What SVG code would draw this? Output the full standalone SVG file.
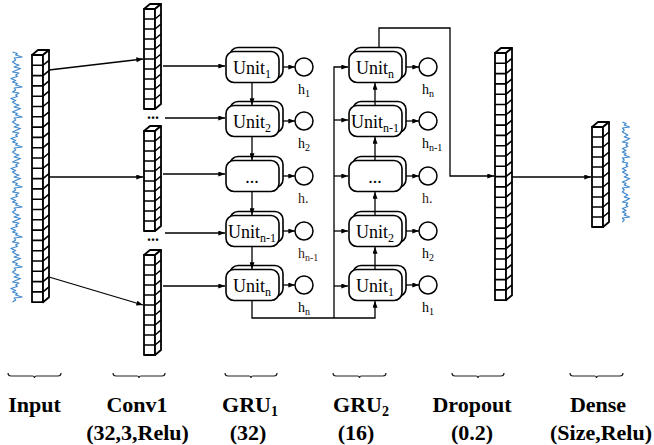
<svg xmlns="http://www.w3.org/2000/svg" xmlns:xlink="http://www.w3.org/1999/xlink" width="654" height="445" viewBox="0 0 654 445">
  <style>
    .cf { fill: #fff; stroke: #000; stroke-width: 1.8; stroke-linejoin: round; }
    .cl { fill: none; stroke: #000; stroke-width: 1.6; }
    .ub { fill: #fff; stroke: #000; stroke-width: 1.6; }
    .hc { fill: #fff; stroke: #000; stroke-width: 1.5; }
    .ed { fill: none; stroke: #000; stroke-width: 1.3; }
    .ar { marker-end: url(#ah); }
    .wv { fill: none; stroke: #3f88cc; stroke-width: 1.2; stroke-linejoin: round; vector-effect: non-scaling-stroke; }
    .br { fill: none; stroke: #222; stroke-width: 1.2; }
    .ut { font-family: "Liberation Serif", "Times New Roman", serif; font-size: 18px; text-anchor: middle; fill: #000; }
    .ht { font-family: "Liberation Serif", "Times New Roman", serif; font-size: 14px; fill: #000; }
    .hb { fill: #3b1a12; }
    .dt { font-family: "Liberation Serif", "Times New Roman", serif; font-size: 16px; font-weight: bold; text-anchor: middle; }
    .lb { font-family: "Liberation Serif", "Times New Roman", serif; font-size: 22px; font-weight: bold; text-anchor: middle; fill: #000; }
  </style>
  <defs>
    <marker id="ah" viewBox="0 0 8 6" refX="8" refY="3" markerWidth="7" markerHeight="5" markerUnits="userSpaceOnUse" orient="auto">
      <path d="M0,0L8,3L0,6z" fill="#000"/>
    </marker>
    <!-- tall vector: 24 cells -->
    <g id="col24">
      <rect class="cf" x="0" y="0" width="11" height="247.2"/>
      <path class="cf" d="M0,0l6,-5h11l-6,5z"/>
      <path class="cf" d="M11,0l6,-5v247.2l-6,5z"/>
      <path class="cl" d="M0,10.3h11l6,-5M0,20.6h11l6,-5M0,30.9h11l6,-5M0,41.2h11l6,-5M0,51.5h11l6,-5M0,61.8h11l6,-5M0,72.1h11l6,-5M0,82.4h11l6,-5M0,92.7h11l6,-5M0,103h11l6,-5M0,113.3h11l6,-5M0,123.6h11l6,-5M0,133.9h11l6,-5M0,144.2h11l6,-5M0,154.5h11l6,-5M0,164.8h11l6,-5M0,175.1h11l6,-5M0,185.4h11l6,-5M0,195.7h11l6,-5M0,206h11l6,-5M0,216.3h11l6,-5M0,226.6h11l6,-5M0,236.9h11l6,-5"/>
    </g>
    <!-- short vector: 10 cells -->
    <g id="col10">
      <rect class="cf" x="0" y="0" width="11" height="100"/>
      <path class="cf" d="M0,0l6,-5h11l-6,5z"/>
      <path class="cf" d="M11,0l6,-5v100l-6,5z"/>
      <path class="cl" d="M0,10h11l6,-5M0,20h11l6,-5M0,30h11l6,-5M0,40h11l6,-5M0,50h11l6,-5M0,60h11l6,-5M0,70h11l6,-5M0,80h11l6,-5M0,90h11l6,-5"/>
    </g>
    <!-- stacked GRU cell box -->
    <g id="ubox">
      <rect class="ub" x="4" y="-4" width="53" height="31" rx="8"/>
      <rect class="ub" x="0" y="0" width="53" height="31" rx="8"/>
    </g>
  </defs>

  <!-- input signal and input vector -->
  <g id="input">
    <path class="wv" transform="matrix(1.6,0,0,1,-11.5,0)" d="M15,52l3,1.5l-1,1.5l4,2l-5,1l1,2l-2,2l2,2l2,1l-3,2l4,1.5l-3,2l-2,1.5l4,1l-2,2l1,1.5l-4,2l3,2l-2,1.5l3,1.5l-1,1.5l4,2l-5,1l1,2l-2,2l4,1l-2,2l1,1.5l-4,2l3,2l-2,1.5l2,2l2,1l-3,2l4,1.5l-3,2l-2,1.5l3,1.5l-1,1.5l4,2l-5,1l1,2l-2,2l2,2l2,1l-3,2l4,1.5l-3,2l-2,1.5l4,1l-2,2l1,1.5l-4,2l3,2l-2,1.5l3,1.5l-1,1.5l4,2l-5,1l1,2l-2,2l2,2l2,1l-3,2l4,1.5l-3,2l-2,1.5l4,1l-2,2l1,1.5l-4,2l3,2l-2,1.5l2,2l2,1l-3,2l4,1.5l-3,2l-2,1.5l3,1.5l-1,1.5l4,2l-5,1l1,2l-2,2l4,1l-2,2l1,1.5l-4,2l3,2l-2,1.5l3,1.5l-1,1.5l4,2l-5,1l1,2l-2,2l2,2l2,1l-3,2l4,1.5l-3,2l-2,1.5l4,1l-2,2l1,1.5l-4,2l3,2l-2,1.5l3,1.5l-1,1.5l4,2l-5,1l1,2l-2,2l4,1l-2,2l1,1.5l-4,2l3,2l-2,1.5l2,2l2,1l-3,2l4,1.5l-3,2l-2,1.5l3,1.5l-1,1.5l4,2l-5,1l1,2l-2,2l2,2l2,1l-3,2l4,1.5l-3,2l-2,1.5l4,1l-2,2l1,1.5l-4,2l3,2l-2,1.5l3,1.5l-1,1.5l4,2l-5,1l1,2l-2,2"/>
    <use href="#col24" x="32" y="55"/>
  </g>

  <!-- convolution feature vectors -->
  <g id="conv1">
    <use href="#col10" x="144" y="9"/>
    <use href="#col10" x="144" y="131"/>
    <use href="#col10" x="144" y="255"/>
    <text class="dt" x="153" y="119">...</text>
    <text class="dt" x="153" y="241">...</text>
  </g>

  <!-- first GRU layer -->
  <g id="gru1-unit1">
    <use href="#ubox" x="226" y="51.5"/>
    <text class="ut" x="252" y="74">Unit<tspan font-size="12" dy="4">1</tspan></text>
    <circle class="hc" cx="304" cy="67" r="9"/>
    <text class="ht" x="298" y="94">h<tspan font-size="10" dy="3">1</tspan></text>
  </g>
  <g id="gru1-unit2">
    <use href="#ubox" x="226" y="105.5"/>
    <text class="ut" x="252" y="128">Unit<tspan font-size="12" dy="4">2</tspan></text>
    <circle class="hc" cx="304" cy="121" r="9"/>
    <text class="ht" x="298" y="148">h<tspan font-size="10" dy="3">2</tspan></text>
  </g>
  <g id="gru1-unit3">
    <use href="#ubox" x="226" y="160.5"/>
    <text class="ut" x="252" y="183">...</text>
    <circle class="hc" cx="304" cy="176" r="9"/>
    <text class="ht hb" x="298" y="203">h.</text>
  </g>
  <g id="gru1-unit4">
    <use href="#ubox" x="226" y="215.5"/>
    <text class="ut" x="252" y="238">Unit<tspan font-size="12" dy="4">n-1</tspan></text>
    <circle class="hc" cx="304" cy="231" r="9"/>
    <text class="ht hb" x="298" y="258">h<tspan font-size="10" dy="3">n-1</tspan></text>
  </g>
  <g id="gru1-unit5">
    <use href="#ubox" x="226" y="269.5"/>
    <text class="ut" x="252" y="292">Unit<tspan font-size="12" dy="4">n</tspan></text>
    <circle class="hc" cx="304" cy="285" r="9"/>
    <text class="ht" x="298" y="312">h<tspan font-size="10" dy="3">n</tspan></text>
  </g>

  <!-- second GRU layer -->
  <g id="gru2-unit1">
    <use href="#ubox" x="349" y="269.5"/>
    <text class="ut" x="375" y="292">Unit<tspan font-size="12" dy="4">1</tspan></text>
    <circle class="hc" cx="428" cy="285" r="9"/>
    <text class="ht" x="422" y="312">h<tspan font-size="10" dy="3">1</tspan></text>
  </g>
  <g id="gru2-unit2">
    <use href="#ubox" x="349" y="215.5"/>
    <text class="ut" x="375" y="238">Unit<tspan font-size="12" dy="4">2</tspan></text>
    <circle class="hc" cx="428" cy="231" r="9"/>
    <text class="ht" x="422" y="258">h<tspan font-size="10" dy="3">2</tspan></text>
  </g>
  <g id="gru2-unit3">
    <use href="#ubox" x="349" y="160.5"/>
    <text class="ut" x="375" y="183">...</text>
    <circle class="hc" cx="428" cy="176" r="9"/>
    <text class="ht hb" x="422" y="203">h.</text>
  </g>
  <g id="gru2-unit4">
    <use href="#ubox" x="349" y="105.5"/>
    <text class="ut" x="375" y="128">Unit<tspan font-size="12" dy="4">n-1</tspan></text>
    <circle class="hc" cx="428" cy="121" r="9"/>
    <text class="ht" x="422" y="148">h<tspan font-size="10" dy="3">n-1</tspan></text>
  </g>
  <g id="gru2-unit5">
    <use href="#ubox" x="349" y="51.5"/>
    <text class="ut" x="375" y="74">Unit<tspan font-size="12" dy="4">n</tspan></text>
    <circle class="hc" cx="428" cy="67" r="9"/>
    <text class="ht" x="422" y="94">h<tspan font-size="10" dy="3">n</tspan></text>
  </g>

  <!-- dropout vector -->
  <g id="dropout">
    <use href="#col24" x="495" y="53"/>
  </g>

  <!-- dense output vector and output signal -->
  <g id="dense">
    <use href="#col10" x="592" y="127"/>
    <path class="wv" transform="matrix(1.8,0,0,1,-500.8,0)" d="M624,122l2,1.5l-1,1.5l3,2l-4,1l1,2l-1,2l2,2l1,1l-2,2l3,1.5l-2,2l-2,1.5l3,1l-1,2l1,1.5l-3,2l2,2l-2,1.5l2,1.5l-1,1.5l3,2l-4,1l1,2l-1,2l3,1l-1,2l1,1.5l-3,2l2,2l-2,1.5l2,2l1,1l-2,2l3,1.5l-2,2l-2,1.5l2,1.5l-1,1.5l3,2l-4,1l1,2l-1,2l2,2l1,1l-2,2l3,1.5l-2,2l-2,1.5l3,1l-1,2l1,1.5l-3,2l2,2l-2,1.5l2,1.5l-1,1.5l3,2l-4,1l1,2l-1,2"/>
  </g>

  <!-- connectors -->
  <g id="connectors">
    <path class="ed ar" d="M49,70L143,59"/>
    <path class="ed ar" d="M49,177H143"/>
    <path class="ed ar" d="M49,277L143,305"/>

    <path class="ed ar" d="M163,66H225"/>
    <path class="ed ar" d="M165,118H225"/>
    <path class="ed ar" d="M163,174H225"/>
    <path class="ed ar" d="M165,233H225"/>
    <path class="ed ar" d="M163,286H225"/>

    <path class="ed ar" d="M252,83V105"/>
    <path class="ed ar" d="M252,137V160"/>
    <path class="ed ar" d="M252,192V215"/>
    <path class="ed ar" d="M252,247V269"/>

    <path class="ed ar" d="M283,67H295"/>
    <path class="ed ar" d="M283,121H295"/>
    <path class="ed ar" d="M283,176H295"/>
    <path class="ed ar" d="M283,231H295"/>
    <path class="ed ar" d="M283,285H295"/>

    <path class="ed ar" d="M252,301V318H375V301"/>
    <path class="ed ar" d="M334,318V67H348"/>
    <path class="ed ar" d="M334,120H348"/>
    <path class="ed ar" d="M334,176H348"/>
    <path class="ed ar" d="M334,231H348"/>
    <path class="ed ar" d="M334,286H348"/>

    <path class="ed ar" d="M375,269V247"/>
    <path class="ed ar" d="M375,215V192"/>
    <path class="ed ar" d="M375,160V137"/>
    <path class="ed ar" d="M375,105V83"/>

    <path class="ed ar" d="M406,67H419"/>
    <path class="ed ar" d="M406,121H419"/>
    <path class="ed ar" d="M406,176H419"/>
    <path class="ed ar" d="M406,231H419"/>
    <path class="ed ar" d="M406,285H419"/>

    <path class="ed ar" d="M379,47V28H450V176H494"/>
    <path class="ed ar" d="M512,177H591"/>
  </g>

  <!-- layer braces and captions -->
  <g id="captions">
    <path class="br" d="M8,373q0,3 3,3H32.5q2,0 2,2q0,-2 2,-2H58q3,0 3,-3"/>
    <path class="br" d="M113,373q0,3 3,3H137q2,0 2,2q0,-2 2,-2H162q3,0 3,-3"/>
    <path class="br" d="M225,373q0,3 3,3H249q2,0 2,2q0,-2 2,-2H274q3,0 3,-3"/>
    <path class="br" d="M333,373q0,3 3,3H357.5q2,0 2,2q0,-2 2,-2H383q3,0 3,-3"/>
    <path class="br" d="M452,373q0,3 3,3H476q2,0 2,2q0,-2 2,-2H501q3,0 3,-3"/>
    <path class="br" d="M570,373q0,3 3,3H594.5q2,0 2,2q0,-2 2,-2H620q3,0 3,-3"/>

    <text class="lb" x="34.5" y="412">Input</text>
    <text class="lb" x="137" y="412">Conv1</text>
    <text class="lb" x="137.5" y="440">(32,3,Relu)</text>
    <text class="lb" x="250" y="412">GRU<tspan font-size="14" dy="4">1</tspan></text>
    <text class="lb" x="248" y="440">(32)</text>
    <text class="lb" x="361" y="412">GRU<tspan font-size="14" dy="4">2</tspan></text>
    <text class="lb" x="356" y="440">(16)</text>
    <text class="lb" x="472" y="412">Dropout</text>
    <text class="lb" x="472" y="440">(0.2)</text>
    <text class="lb" x="598" y="412">Dense</text>
    <text class="lb" x="601" y="440">(Size,Relu)</text>
  </g>
</svg>
